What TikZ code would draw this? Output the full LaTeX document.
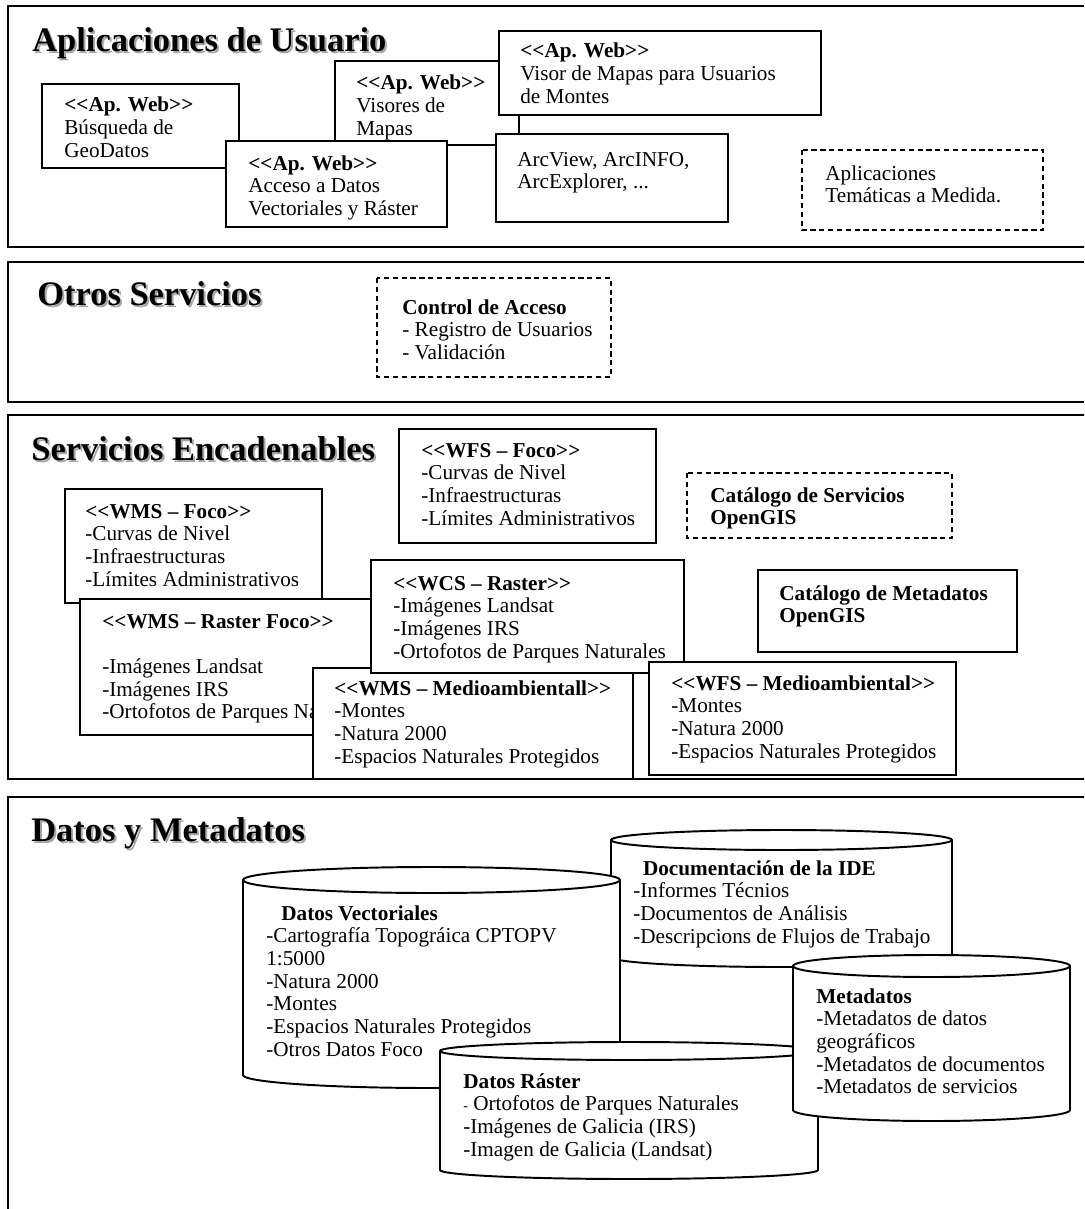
\documentclass[tikz,border=0pt]{standalone}
\usepackage{fontspec}
\setmainfont{Liberation Serif}[Ligatures=TeXOff]
\usetikzlibrary{calc}

\newcommand{\cuerpo}{\fontsize{12}{12.85}\selectfont}
\newcommand{\titfont}{\fontsize{19.5}{23}\selectfont\bfseries}
\newcommand{\lineas}[1]{\begin{tabular}[t]{@{}l@{}}#1\end{tabular}}
\newcommand{\apweb}{\textbf{<<Ap. Web>>}}

\tikzset{
	marco/.style={draw, line width=1.4pt},
	caja/.style={draw, fill=white, line width=0.7pt},
	cajapunt/.style={caja, dash pattern=on 3pt off 2pt, line width=1pt},
	cil/.style={draw, fill=white, line width=1.1pt},
	texto/.style={anchor=base west, inner sep=0pt, font=\cuerpo},
	titulo/.style={anchor=base west, inner sep=0pt, font=\titfont},
	sombra/.style={titulo, text=black!35}
}

% titulo con sombra: nombre, x, y, texto
\newcommand{\titulo}[4]{%
	\node[sombra] (#1s) at (#2+2,#3+2) {#4};
	\node[titulo] (#1) at (#2,#3) {#4};}

% cilindro: x izq, x der, y tapa, y base, radio vertical
\newcommand{\cilindro}[5]{%
	\pgfmathsetmacro{\cilrx}{(#2-#1)/2*0.566}%
	\pgfmathsetmacro{\cilry}{#5*0.566}%
	\path[cil] (#1,#3) -- (#1,#4) arc[start angle=180, end angle=360, x radius=\cilrx pt, y radius=\cilry pt]
		-- (#2,#3) arc[start angle=0, end angle=180, x radius=\cilrx pt, y radius=\cilry pt] -- cycle;
	\draw[cil] (#1,#3) arc[start angle=180, end angle=360, x radius=\cilrx pt, y radius=\cilry pt];}

\begin{document}
\begin{tikzpicture}[x=0.566pt, y=-0.566pt]
	\useasboundingbox (0,0) rectangle (1084,1209);
	\clip (0,0) rectangle (1084,1209);
	
	% Aplicaciones de Usuario
	\draw[marco] (8,6) rectangle (1100,247);
	\titulo{tapl}{32}{52}{Aplicaciones de Usuario}
	
	\draw[caja] (42,84) rectangle (239,168);
	\node[texto] (busq) at (64,112) {\lineas{\apweb\\ Búsqueda de\\ GeoDatos}};
	
	\draw[caja] (335,61) rectangle (519,145);
	\node[texto] (visores) at (356,90) {\lineas{\apweb\\ Visores de\\ Mapas}};
	
	\draw[caja] (226,141) rectangle (447,227);
	\node[texto] (acceso) at (248,170) {\lineas{\apweb\\ Acceso a Datos\\ Vectoriales y Ráster}};
	
	\draw[caja] (499,31) rectangle (821,115);
	\node[texto] (montes) at (520,58) {\lineas{\apweb\\ Visor de Mapas para Usuarios\\ de Montes}};
	
	\draw[caja] (496,134) rectangle (728,222);
	\node[texto] (arcview) at (517,166) {\lineas{ArcView, ArcINFO,\\ ArcExplorer, ...}};
	
	\draw[cajapunt] (802,150) rectangle (1043,230);
	\node[texto] (tematicas) at (825,180) {\lineas{Aplicaciones\\ Temáticas a Medida.}};
	
	% Otros Servicios
	\draw[marco] (8,262) rectangle (1100,402);
	\titulo{totros}{37}{305}{Otros Servicios}
	
	\draw[cajapunt] (377,278) rectangle (611,377);
	\node[texto] (control) at (402,314) {\lineas{\textbf{Control de Acceso}\\ - Registro de Usuarios\\ - Validación}};
	
	% Servicios Encadenables
	\draw[marco] (8,415) rectangle (1100,779);
	\titulo{tserv}{31}{460}{Servicios Encadenables}
	
	\draw[caja] (399,429) rectangle (656,543);
	\node[texto] (wfsfoco) at (421,457) {\lineas{\textbf{<<WFS – Foco>>}\\ -Curvas de Nivel\\ -Infraestructuras\\ -Límites Administrativos}};
	
	\draw[caja] (65,489) rectangle (322,603);
	\node[texto] (wmsfoco) at (85,518) {\lineas{\textbf{<<WMS – Foco>>}\\ -Curvas de Nivel\\ -Infraestructuras\\ -Límites Administrativos}};
	
	\draw[caja] (80,599) rectangle (400,735);
	\node[texto] (wmsraster) at (102,628) {\lineas{\textbf{<<WMS – Raster Foco>>}\\ \\ -Imágenes Landsat\\ -Imágenes IRS\\ -Ortofotos de Parques Naturales}};
	
	\draw[caja] (313,668) rectangle (633,779);
	\node[texto] (wmsmedio) at (334,695) {\lineas{\textbf{<<WMS – Medioambientall>>}\\ -Montes\\ -Natura 2000\\ -Espacios Naturales Protegidos}};
	
	\draw[caja] (371,560) rectangle (684,673);
	\node[texto] (wcs) at (393,590) {\lineas{\textbf{<<WCS – Raster>>}\\ -Imágenes Landsat\\ -Imágenes IRS\\ -Ortofotos de Parques Naturales}};
	
	\draw[cajapunt] (687,473) rectangle (952,538);
	\node[texto] (catserv) at (710,502) {\lineas{\textbf{Catálogo de Servicios}\\ \textbf{OpenGIS}}};
	
	\draw[caja] (758,570) rectangle (1017,652);
	\node[texto] (catmeta) at (779,600) {\lineas{\textbf{Catálogo de Metadatos}\\ \textbf{OpenGIS}}};
	
	\draw[caja] (649,662) rectangle (956,775);
	\node[texto] (wfsmedio) at (671,690) {\lineas{\textbf{<<WFS – Medioambiental>>}\\ -Montes\\ -Natura 2000\\ -Espacios Naturales Protegidos}};
	
	% Datos y Metadatos
	\draw[marco] (8,797) rectangle (1100,1230);
	\titulo{tdatos}{31}{841}{Datos y Metadatos}
	
	\cilindro{611}{952}{840}{957}{10}
	\node[texto] (docu) at (633,875) {\lineas{\hspace{5.5pt}\textbf{Documentación de la IDE}\\ -Informes Técnios\\ -Documentos de Análisis\\ -Descripcions de Flujos de Trabajo}};
	
	\cilindro{243}{620}{880}{1075}{13}
	\node[texto] (vector) at (266,920) {\lineas{\hspace{8.5pt}\textbf{Datos Vectoriales}\\ -Cartografía Topográica CPTOPV\\ 1:5000\\ -Natura 2000\\ -Montes\\ -Espacios Naturales Protegidos\\ -Otros Datos Foco}};
	
	\cilindro{440}{818}{1051}{1170}{9}
	\node[texto] (raster) at (463,1088) {\lineas{\textbf{Datos Ráster}\\ {\footnotesize -} Ortofotos de Parques Naturales\\ -Imágenes de Galicia (IRS)\\ -Imagen de Galicia (Landsat)}};
	
	\cilindro{793}{1070}{966}{1110}{11}
	\node[texto] (metadatos) at (816,1003) {\lineas{\textbf{Metadatos}\\ -Metadatos de datos\\ geográficos\\ -Metadatos de documentos\\ -Metadatos de servicios}};
\end{tikzpicture}
\end{document}
